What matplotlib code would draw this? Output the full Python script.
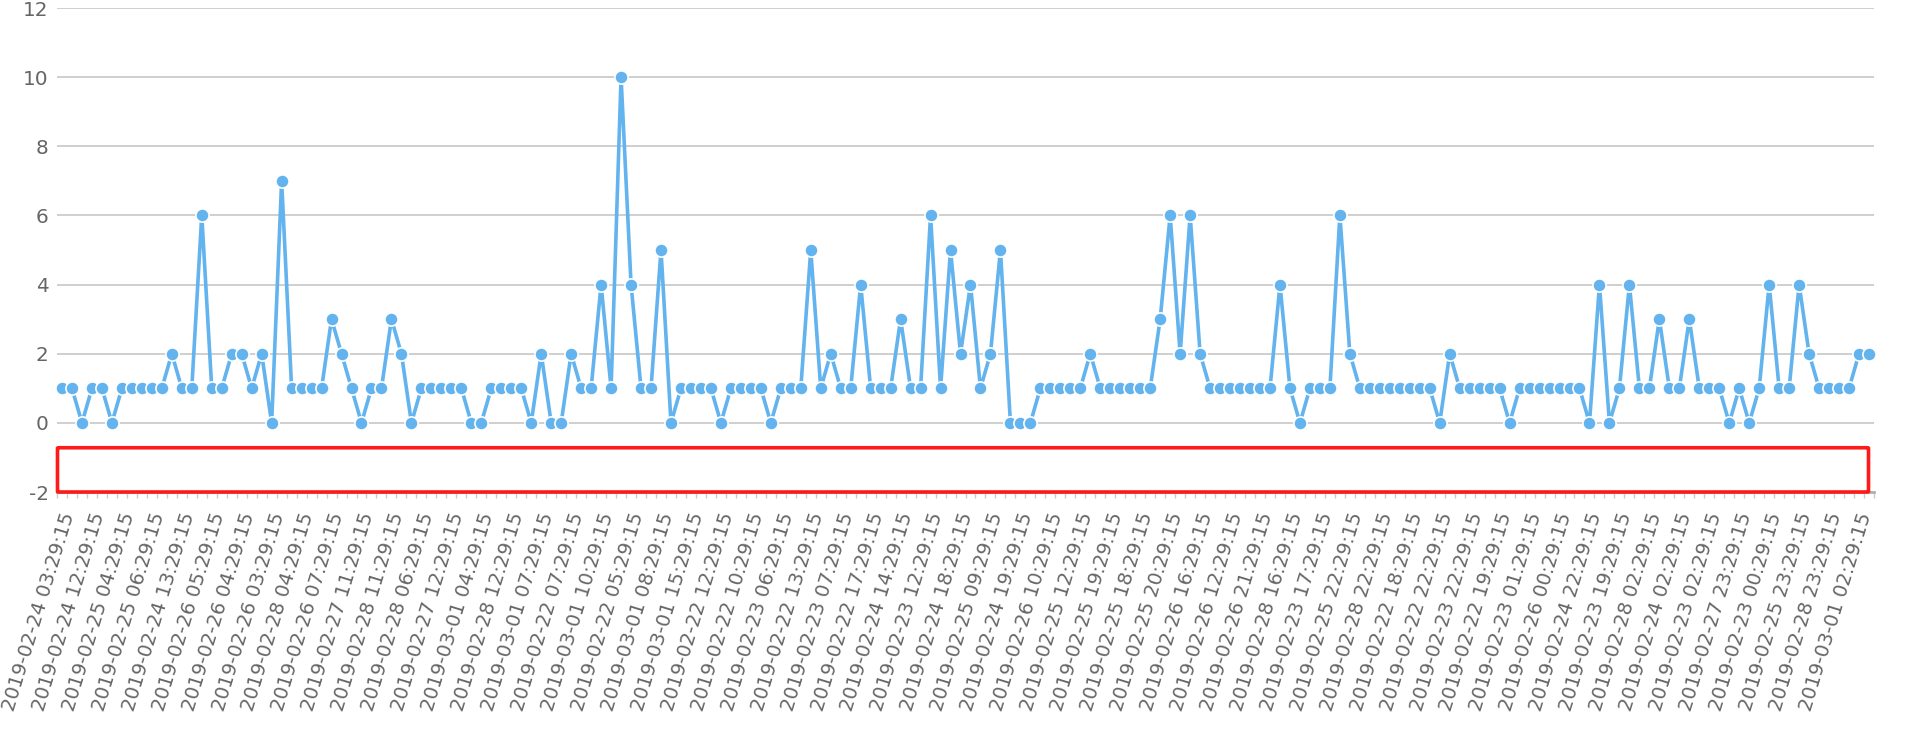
import matplotlib
matplotlib.use('Agg')
import matplotlib.pyplot as plt
import matplotlib.transforms as mtransforms
from matplotlib.patches import FancyBboxPatch

# Data
values = [
    1, 1, 0, 1, 1, 0, 1, 1, 1, 1, 1, 2, 1, 1, 6, 1, 1, 2, 2, 1,
    2, 0, 7, 1, 1, 1, 1, 3, 2, 1, 0, 1, 1, 3, 2, 0, 1, 1, 1, 1,
    1, 0, 0, 1, 1, 1, 1, 0, 2, 0, 0, 2, 1, 1, 4, 1, 10, 4, 1, 1,
    5, 0, 1, 1, 1, 1, 0, 1, 1, 1, 1, 0, 1, 1, 1, 5, 1, 2, 1, 1,
    4, 1, 1, 1, 3, 1, 1, 6, 1, 5, 2, 4, 1, 2, 5, 0, 0, 0, 1, 1,
    1, 1, 1, 2, 1, 1, 1, 1, 1, 1, 3, 6, 2, 6, 2, 1, 1, 1, 1, 1,
    1, 1, 4, 1, 0, 1, 1, 1, 6, 2, 1, 1, 1, 1, 1, 1, 1, 1, 0, 2,
    1, 1, 1, 1, 1, 0, 1, 1, 1, 1, 1, 1, 1, 0, 4, 0, 1, 4, 1, 1,
    3, 1, 1, 3, 1, 1, 1, 0, 1, 0, 1, 4, 1, 1, 4, 2, 1, 1, 1, 1,
    2, 2,
]

# labels shown on every third category
tick_labels = [
    '2019-02-24 03:29:15', '2019-02-24 12:29:15', '2019-02-25 04:29:15',
    '2019-02-25 06:29:15', '2019-02-24 13:29:15', '2019-02-26 05:29:15',
    '2019-02-26 04:29:15', '2019-02-26 03:29:15', '2019-02-28 04:29:15',
    '2019-02-26 07:29:15', '2019-02-27 11:29:15', '2019-02-28 11:29:15',
    '2019-02-28 06:29:15', '2019-02-27 12:29:15', '2019-03-01 04:29:15',
    '2019-02-28 12:29:15', '2019-03-01 07:29:15', '2019-02-22 07:29:15',
    '2019-03-01 10:29:15', '2019-02-22 05:29:15', '2019-03-01 08:29:15',
    '2019-03-01 15:29:15', '2019-02-22 12:29:15', '2019-02-22 10:29:15',
    '2019-02-23 06:29:15', '2019-02-22 13:29:15', '2019-02-23 07:29:15',
    '2019-02-22 17:29:15', '2019-02-24 14:29:15', '2019-02-23 12:29:15',
    '2019-02-24 18:29:15', '2019-02-25 09:29:15', '2019-02-24 19:29:15',
    '2019-02-26 10:29:15', '2019-02-25 12:29:15', '2019-02-25 19:29:15',
    '2019-02-25 18:29:15', '2019-02-25 20:29:15', '2019-02-26 16:29:15',
    '2019-02-26 12:29:15', '2019-02-26 21:29:15', '2019-02-28 16:29:15',
    '2019-02-23 17:29:15', '2019-02-25 22:29:15', '2019-02-28 22:29:15',
    '2019-02-22 18:29:15', '2019-02-22 22:29:15', '2019-02-23 22:29:15',
    '2019-02-22 19:29:15', '2019-02-23 01:29:15', '2019-02-26 00:29:15',
    '2019-02-24 22:29:15', '2019-02-23 19:29:15', '2019-02-28 02:29:15',
    '2019-02-24 02:29:15', '2019-02-23 02:29:15', '2019-02-27 23:29:15',
    '2019-02-23 00:29:15', '2019-02-25 23:29:15', '2019-02-28 23:29:15',
    '2019-03-01 02:29:15',
]
label_step = 3
y_ticks = [-2, 0, 2, 4, 6, 8, 10, 12]

# highlighted band under the zero line
box_y = (-2.0, -0.72)

line_color = '#62b3ee'
text_color = '#666666'

fig = plt.figure(figsize=(19.1, 7.39), dpi=100)
ax = fig.add_axes([57 / 1910, 1 - 492 / 739, (1874 - 57) / 1910, (492 - 8) / 739])

x = list(range(len(values)))
ax.plot(x, values, color=line_color, lw=2.6, marker='o', ms=9.5,
        markerfacecolor=line_color, markeredgecolor='white', markeredgewidth=1.2,
        zorder=3, clip_on=False)

ax.set_xlim(-0.5, len(values) - 0.5)
ax.set_ylim(-2, 12)

ax.set_yticks(y_ticks)
ax.set_yticklabels([str(v) for v in y_ticks])
ax.grid(axis='y', color='#cccccc', lw=1.3)
ax.set_axisbelow(True)

ax.set_xticks(x[::label_step])
ax.set_xticklabels(tick_labels, rotation=73, ha='right', va='center',
                   rotation_mode='anchor')
ax.set_xticks([i - 0.5 for i in range(len(values) + 1)], minor=True)

ax.tick_params(axis='y', length=0, pad=6, labelsize=14.4, labelcolor=text_color)
ax.tick_params(axis='x', which='major', length=0, pad=15, labelsize=14,
               labelcolor=text_color)
ax.tick_params(axis='x', which='minor', length=4, color='#cccccc', width=1)

# nudge the rotated labels a little to the right of their ticks
shift = mtransforms.ScaledTranslation(7 / 100, 0, fig.dpi_scale_trans)
for lbl in ax.get_xticklabels():
    lbl.set_transform(lbl.get_transform() + shift)

for side in ['top', 'right', 'left']:
    ax.spines[side].set_visible(False)
ax.spines['bottom'].set_color('#b0b0b0')
ax.spines['bottom'].set_linewidth(2)

# red outline box
box = FancyBboxPatch((-0.45, box_y[0]), 181.4, box_y[1] - box_y[0],
                     boxstyle='round,pad=0,rounding_size=0.15',
                     fill=False, edgecolor='#ff1a1a', lw=2.6, zorder=4,
                     clip_on=False, mutation_aspect=1 / 10)
ax.add_patch(box)

fig.savefig('out.png', dpi=100)
